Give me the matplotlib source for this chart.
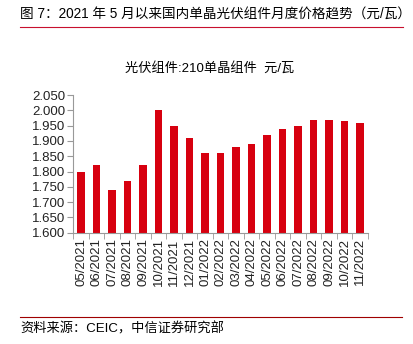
import numpy as np
import matplotlib.pyplot as plt
from matplotlib.lines import Line2D

plt.rcParams['font.family'] = ['Liberation Sans', 'Noto Sans CJK SC', 'DejaVu Sans']

months = ["05/2021", "06/2021", "07/2021", "08/2021", "09/2021", "10/2021",
          "11/2021", "12/2021", "01/2022", "02/2022", "03/2022", "04/2022",
          "05/2022", "06/2022", "07/2022", "08/2022", "09/2022", "10/2022",
          "11/2022"]
prices = [1.80, 1.82, 1.74, 1.77, 1.82, 2.00, 1.95, 1.91, 1.86, 1.86,
          1.88, 1.89, 1.92, 1.94, 1.95, 1.97, 1.97, 1.965, 1.96]
yticks = [1.600, 1.650, 1.700, 1.750, 1.800, 1.850, 1.900, 1.950, 2.000, 2.050]

title = "图 7：2021 年 5 月以来国内单晶光伏组件月度价格趋势（元/瓦）"
subtitle = "光伏组件:210单晶组件  元/瓦"
source = "资料来源：CEIC，中信证券研究部"

fig = plt.figure(figsize=(4.13, 3.44), dpi=100)
ax = fig.add_axes([0.1775, 0.3235, 0.713, 0.4])

x = np.arange(len(months))
ax.bar(x, prices, width=0.5, color="#D7000F", zorder=2)

ax.set_ylim(1.6, 2.05)
ax.set_yticks(yticks)
ax.set_yticklabels(["%.3f" % v for v in yticks], fontsize=9.5, color="#222222")
ax.set_xlim(-0.5, len(months) - 0.5)
ax.set_xticks(x)
ax.set_xticklabels(months, rotation=90, fontsize=9.5, color="#222222")
ax.tick_params(axis="x", length=0, pad=4)
ax.set_xticks(np.arange(len(months) + 1) - 0.5, minor=True)
ax.tick_params(axis="x", which="minor", length=4, color="#999999")
ax.tick_params(axis="y", length=4, color="#999999", pad=2)

for s in ["top", "right"]:
    ax.spines[s].set_visible(False)
ax.spines["left"].set_color("#999999")
ax.spines["bottom"].set_color("#999999")

fig.text(20 / 413, 1 - 15 / 344, title, fontsize=9.8, va="center", ha="left")
fig.add_artist(Line2D([20 / 413, 403 / 413], [1 - 27 / 344, 1 - 27 / 344],
                      color="#C8102E", lw=0.8))
fig.text(210 / 413, 1 - 68 / 344, subtitle, fontsize=9.5, va="center", ha="center")
fig.add_artist(Line2D([20 / 413, 402 / 413], [1 - 317 / 344, 1 - 317 / 344],
                      color="#A00000", lw=0.8))
fig.text(20 / 413, 1 - 329 / 344, source, fontsize=9.5, va="center", ha="left")

fig.savefig("out.png", dpi=100)
